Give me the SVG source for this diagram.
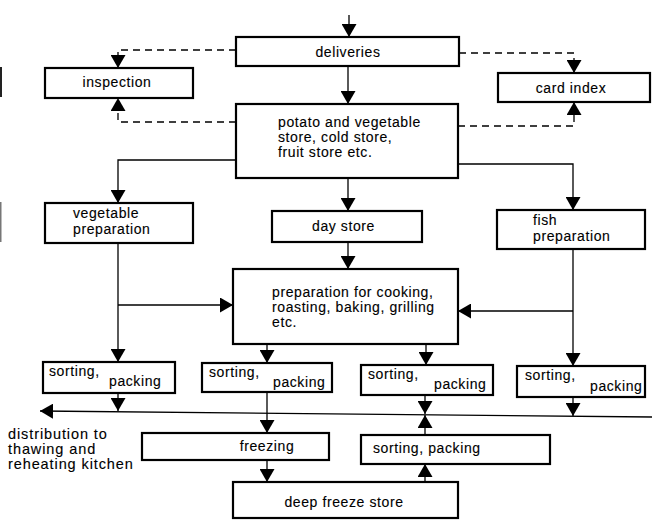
<svg xmlns="http://www.w3.org/2000/svg" width="652" height="520" viewBox="0 0 652 520">
<style>
.box{fill:#fff;stroke:#000;stroke-width:2.2}
.t{font-family:"Liberation Sans",Arial,sans-serif;font-size:14px;letter-spacing:0.6px;fill:#000;stroke:#000;stroke-width:0.12}
.c{stroke:#000;stroke-width:1.3;fill:none}
.d{stroke:#000;stroke-width:1.3;fill:none;stroke-dasharray:7 5}
</style>
<defs>
<marker id="ah" viewBox="0 0 13 15" refX="13" refY="7.5" markerWidth="13" markerHeight="15" orient="auto" markerUnits="userSpaceOnUse">
<path d="M0,0 L13,7.5 L0,15 z" fill="#000"/>
</marker>
</defs>
<rect width="652" height="520" fill="#fff"/>
<g id="artifacts">
<rect x="0" y="67" width="2" height="30" fill="#222"/>
<rect x="0" y="202" width="1.5" height="40" fill="#777"/>
</g>
<g id="connectors">
<path class="c" d="M349,15 V37" marker-end="url(#ah)"/>
<path class="d" d="M236,50 H118 V68" marker-end="url(#ah)"/>
<path class="d" d="M236,122 H118 V98" marker-end="url(#ah)"/>
<path class="d" d="M459,53 H574 V73" marker-end="url(#ah)"/>
<path class="d" d="M458,126 H574 V102" marker-end="url(#ah)"/>
<path class="c" d="M348,66 V104" marker-end="url(#ah)"/>
<path class="c" d="M236,160 H118 V203" marker-end="url(#ah)"/>
<path class="c" d="M458,164 H573 V210" marker-end="url(#ah)"/>
<path class="c" d="M348,178 V211" marker-end="url(#ah)"/>
<path class="c" d="M348,242 V269" marker-end="url(#ah)"/>
<path class="c" d="M118,243 V362" marker-end="url(#ah)"/>
<path class="c" d="M118,305 H233" marker-end="url(#ah)"/>
<path class="c" d="M573,249 V366" marker-end="url(#ah)"/>
<path class="c" d="M573,311 H458" marker-end="url(#ah)"/>
<path class="c" d="M267,344 V363" marker-end="url(#ah)"/>
<path class="c" d="M426,344 V365" marker-end="url(#ah)"/>
<path class="c" d="M652,417 L40,411" marker-end="url(#ah)"/>
<path class="c" d="M118,393 V411" marker-end="url(#ah)"/>
<path class="c" d="M267,392 V433" marker-end="url(#ah)"/>
<path class="c" d="M425,395 V414" marker-end="url(#ah)"/>
<path class="c" d="M425,435 V415" marker-end="url(#ah)"/>
<path class="c" d="M573,397 V416" marker-end="url(#ah)"/>
<path class="c" d="M267,460 V482" marker-end="url(#ah)"/>
<path class="c" d="M425,482 V464" marker-end="url(#ah)"/>
</g>
<g id="deliveries"><rect class="box" x="236" y="37" width="223" height="29"/><text class="t" x="348" y="57" text-anchor="middle">deliveries</text></g>
<g id="inspection"><rect class="box" x="45" y="68" width="148" height="30"/><text class="t" x="117" y="87" text-anchor="middle">inspection</text></g>
<g id="card-index"><rect class="box" x="498" y="73" width="152" height="29"/><text class="t" x="571" y="93" text-anchor="middle">card index</text></g>
<g id="store"><rect class="box" x="236" y="104" width="222" height="74"/><text class="t" x="278" y="127">potato and vegetable</text><text class="t" x="278" y="142">store, cold store,</text><text class="t" x="278" y="157">fruit store etc.</text></g>
<g id="veg-prep"><rect class="box" x="45" y="203" width="148" height="40"/><text class="t" x="73" y="218">vegetable</text><text class="t" x="73" y="234">preparation</text></g>
<g id="day-store"><rect class="box" x="272" y="211" width="150" height="31"/><text class="t" x="312" y="231">day store</text></g>
<g id="fish-prep"><rect class="box" x="497" y="210" width="148" height="39"/><text class="t" x="533" y="225">fish</text><text class="t" x="533" y="241">preparation</text></g>
<g id="cooking-prep"><rect class="box" x="233" y="269" width="225" height="75"/><text class="t" x="272" y="297">preparation for cooking,</text><text class="t" x="272" y="312">roasting, baking, grilling</text><text class="t" x="272" y="327">etc.</text></g>
<g id="sorting1"><rect class="box" x="43" y="362" width="132" height="31"/><text class="t" x="49" y="376">sorting,</text><text class="t" x="109" y="386">packing</text></g>
<g id="sorting2"><rect class="box" x="202" y="363" width="130" height="29"/><text class="t" x="209" y="377">sorting,</text><text class="t" x="273" y="387">packing</text></g>
<g id="sorting3"><rect class="box" x="361" y="365" width="132" height="30"/><text class="t" x="368" y="379">sorting,</text><text class="t" x="434" y="389">packing</text></g>
<g id="sorting4"><rect class="box" x="517" y="366" width="128" height="31"/><text class="t" x="525" y="380">sorting,</text><text class="t" x="590" y="391">packing</text></g>
<g id="distribution"><text class="t" x="8" y="439" style="font-size:14.5px;letter-spacing:0.9px">distribution to</text><text class="t" x="8" y="454" style="font-size:14.5px;letter-spacing:0.9px">thawing and</text><text class="t" x="8" y="469" style="font-size:14.5px;letter-spacing:0.9px">reheating kitchen</text></g>
<g id="freezing"><rect class="box" x="142" y="433" width="187" height="27"/><text class="t" x="267" y="451" text-anchor="middle">freezing</text></g>
<g id="sorting5"><rect class="box" x="361" y="435" width="189" height="29"/><text class="t" x="373" y="453">sorting, packing</text></g>
<g id="deep-freeze"><rect class="box" x="233" y="482" width="225" height="36"/><text class="t" x="344" y="507" text-anchor="middle">deep freeze store</text></g>
</svg>
